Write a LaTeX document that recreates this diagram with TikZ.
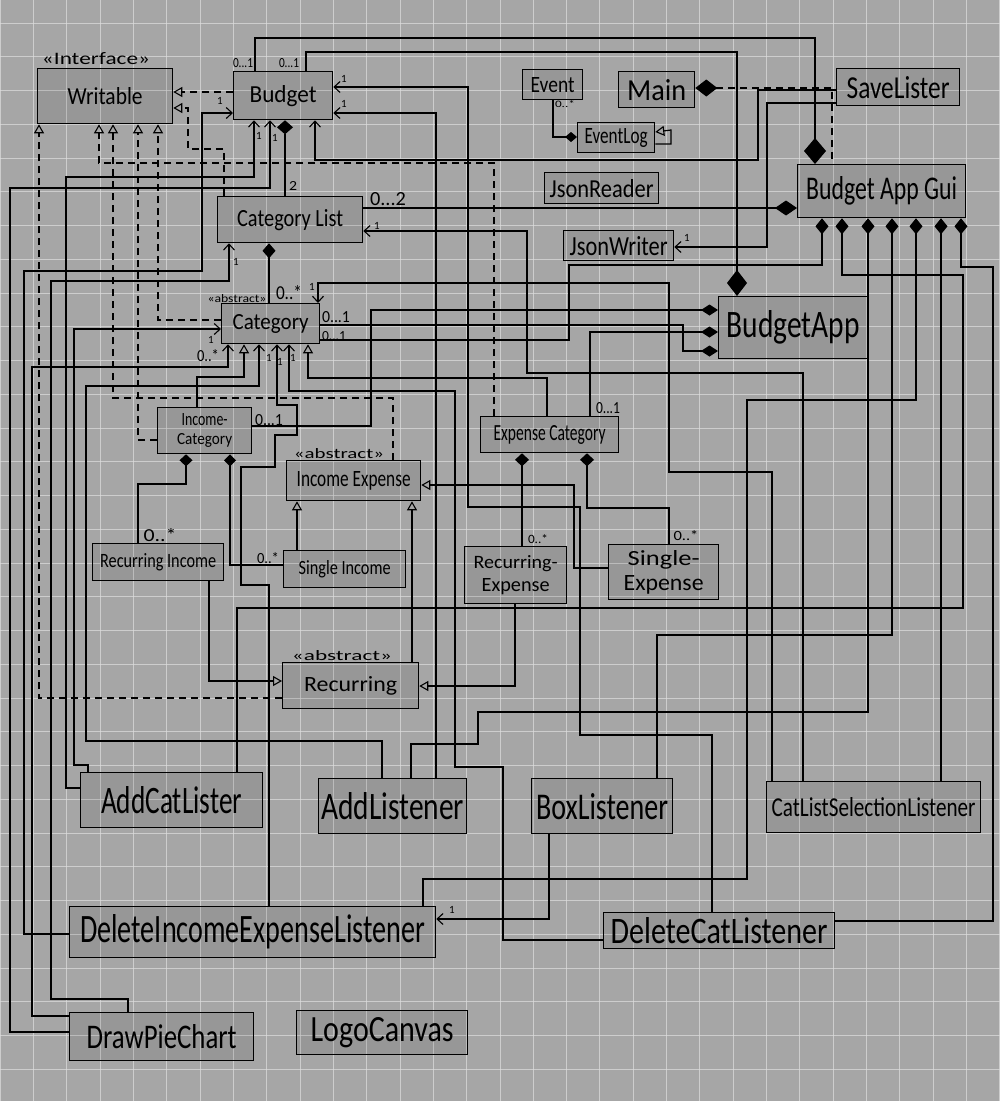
\documentclass[tikz,border=0pt]{standalone}
\usepackage{graphicx}
\usepackage{fontspec}
\setmainfont{Carlito}
\usetikzlibrary{arrows.meta}
\definecolor{bg}{RGB}{166,166,166}
\definecolor{gridc}{RGB}{222,222,222}
% text scaled to a given width and height (in pt)
\newcommand\hw[3]{\resizebox{#1pt}{#2pt}{#3}}
\newcommand\one{{\fontsize{11}{11}\selectfont 1}}

\begin{document}
\begin{tikzpicture}[x=1pt,y=-1pt,
  box/.style={draw=black, line width=1.3pt, fill=black, fill opacity=0.085,
              text opacity=1, inner sep=0pt, anchor=north west},
  lab/.style={inner sep=0pt},
  conn/.style={line width=1.2pt, draw=black},
  dsh/.style={conn, dash pattern=on 7pt off 5pt},
  nav/.style={conn, -{Straight Barb[length=6pt,width=11pt,line width=1.1pt]}},
  gen/.style={conn, -{Triangle[open,length=9pt,width=10pt,line width=1.1pt]}},
  real/.style={dsh, -{Triangle[open,length=9pt,width=10pt,line width=1.1pt]}},
  comp/.style={conn, {Diamond[length=16pt,width=13pt]}-},
]
\useasboundingbox (0,0) rectangle (1000,1101);
\fill[bg] (0,0) rectangle (1000,1101);

% squared paper
\foreach \i in {0,...,30}
  \draw[gridc, line width=0.9pt, opacity=0.7] (\i*33.33,0) -- (\i*33.33,1101);
\foreach \j in {0,...,32}
  \draw[gridc, line width=0.9pt, opacity=0.7] (0,23+\j*33.75) -- (1000,23+\j*33.75);

% ---------------- classes ----------------
\node[box, minimum width=135pt, minimum height=55pt] (writable) at (37,68) {\hw{75}{17}{Writable}};
\node[box, minimum width=99pt, minimum height=48pt] (budget) at (233,71) {\hw{67}{17}{Budget}};
\node[box, minimum width=60pt, minimum height=30pt] (event) at (522,69) {\hw{44}{15}{Event}};
\node[box, minimum width=77pt, minimum height=30pt] (eventlog) at (577,122) {\hw{63}{15}{EventLog}};
\node[box, minimum width=76pt, minimum height=36pt] (main) at (618,71) {\hw{59}{21}{Main}};
\node[box, minimum width=123pt, minimum height=37pt] (savelister) at (836,68) {\hw{103}{22}{SaveLister}};
\node[box, minimum width=168pt, minimum height=53pt] (gui) at (797,164) {\hw{151}{23}{Budget App Gui}};
\node[box, minimum width=114pt, minimum height=31pt] (jsonreader) at (544,172) {\hw{104}{18}{JsonReader}};
\node[box, minimum width=110pt, minimum height=30pt] (jsonwriter) at (563,230) {\hw{98}{19}{JsonWriter}};
\node[box, minimum width=145pt, minimum height=46pt] (catlist) at (217,196) {\hw{106}{17}{Category List}};
\node[box, minimum width=98pt, minimum height=40pt] (category) at (221,303) {\hw{76}{15}{Category}};
\node[box, minimum width=94pt, minimum height=46pt, align=center] (inccat) at (157,407)
  {\hw{46}{12}{Income-}\\[7pt]\hw{55}{11}{Category}};
\node[box, minimum width=134pt, minimum height=40pt] (incexp) at (286,460) {\hw{114}{15}{Income Expense}};
\node[box, minimum width=138pt, minimum height=36pt] (expcat) at (480,416) {\hw{112}{15}{Expense Category}};
\node[box, minimum width=131pt, minimum height=37pt] (recinc) at (92,543) {\hw{116}{14}{Recurring Income}};
\node[box, minimum width=122pt, minimum height=37pt] (sglinc) at (283,550) {\hw{92}{14}{Single Income}};
\node[box, minimum width=102pt, minimum height=57pt, align=center] (recexp) at (464,546)
  {\hw{84}{13}{Recurring-}\\[6pt]\hw{68}{13}{Expense}};
\node[box, minimum width=110pt, minimum height=55pt, align=center] (sglexp) at (608,544)
  {\hw{72}{15}{Single-}\\[5pt]\hw{80}{15}{Expense}};
\node[box, minimum width=136pt, minimum height=46pt] (recurring) at (282,662) {\hw{93}{15}{Recurring}};
\node[box, minimum width=182pt, minimum height=55pt] (addcat) at (80,772) {\hw{141}{27}{AddCatLister}};
\node[box, minimum width=148pt, minimum height=55pt] (addlis) at (318,778) {\hw{143}{27}{AddListener}};
\node[box, minimum width=141pt, minimum height=55pt] (boxlis) at (531,778) {\hw{132}{26}{BoxListener}};
\node[box, minimum width=214pt, minimum height=51pt] (catsel) at (766,781) {\hw{204}{19}{CatListSelectionListener}};
\node[box, minimum width=366pt, minimum height=51pt] (delinc) at (69,906) {\hw{345}{28}{DeleteIncomeExpenseListener}};
\node[box, minimum width=231pt, minimum height=36pt] (delcat) at (603,912) {\hw{217}{26}{DeleteCatListener}};
\node[box, minimum width=184pt, minimum height=48pt] (dpc) at (69,1012) {\hw{150}{24}{DrawPieChart}};
\node[box, minimum width=171pt, minimum height=44pt] (logo) at (296,1010) {\hw{143}{24}{LogoCanvas}};
\node[box, minimum width=149pt, minimum height=62pt] (budgetapp) at (718,296) {\hw{133}{27}{BudgetApp}};

% stereotypes
\node[lab] (st1) at (96,59) {\hw{108}{12}{«Interface»}};
\node[lab] (st2) at (237,299) {\hw{59}{8}{«abstract»}};
\node[lab] (st3) at (339,454) {\hw{90}{10}{«abstract»}};
\node[lab] (st4) at (342,656) {\hw{100}{10}{«abstract»}};

% ---------------- realizations of Writable ----------------
\draw[real] ([yshift=-21pt]budget.north west) -- ([yshift=-24pt]writable.north east);
\draw[real] ([xshift=7pt]catlist.north west) |- (188,149) |- ([yshift=-40pt]writable.north east);
\draw[real] ([yshift=-17pt]category.north west) -| ([xshift=121pt]writable.south west);
\draw[real] ([yshift=-33pt]inccat.north west) -| ([xshift=101pt]writable.south west);
\draw[real] ([xshift=107pt]incexp.north west) |- (113,398) -- ([xshift=76pt]writable.south west);
\draw[real] ([xshift=14pt]expcat.north west) |- (99,163) -- ([xshift=62pt]writable.south west);
\draw[real] ([yshift=-36pt]recurring.north west) -| ([xshift=2pt]writable.south west);

% ---------------- generalizations ----------------
\draw[gen] ([xshift=40pt]inccat.north west) |- (244,377) -- ([xshift=23pt]category.south west);
\draw[gen] ([xshift=67pt]expcat.north west) |- (308,378) -- ([xshift=87pt]category.south west);
\draw[gen] ([xshift=14pt]sglinc.north west) -- ([xshift=11pt]incexp.south west);
\draw[gen] ([yshift=-24pt]sglexp.north west) -| (574,485) -- ([yshift=-25pt]incexp.north east);
\draw[gen] ([xshift=130pt]recurring.north west) -- ([xshift=126pt]incexp.south west);
\draw[gen] ([xshift=117pt]recinc.south west) |- ([yshift=-19pt]recurring.north west);
\draw[gen] ([xshift=51pt]recexp.south west) |- ([yshift=-24pt]recurring.north east);
\draw[gen] ([yshift=-22pt]eventlog.north east) -- (671,144) -- (671,130) -- ([yshift=-10pt]eventlog.north east);

% ---------------- compositions ----------------
\draw[conn, {Diamond[length=26pt,width=22pt]}-] ([xshift=18pt]gui.north west) |- (255,38) -- ([xshift=22pt]budget.north west);
\draw[conn, {Diamond[length=26pt,width=20pt]}-] ([xshift=19pt]budgetapp.north west) |- (306,52) -- ([xshift=73pt]budget.north west);
\draw[conn, {Diamond[length=14pt,width=16pt]}-] ([xshift=52pt]budget.south west) -- ([xshift=68pt]catlist.north west);
\draw[conn, {Diamond[length=22pt,width=15pt]}-] ([yshift=-44pt]gui.north west) -- ([yshift=-12pt]catlist.north east);
\draw[conn, {Diamond[length=15pt,width=13pt]}-] ([xshift=52pt]catlist.south west) -- ([xshift=48pt]category.north west);
\draw[conn, {Diamond[length=17pt,width=11pt]}-] ([yshift=-55pt]budgetapp.north west) -| (683,325) -- ([yshift=-22pt]category.north east);
\draw[conn, {Diamond[length=17pt,width=11pt]}-] ([yshift=-14pt]budgetapp.north west) -| (371,426) -- ([yshift=-19pt]inccat.north east);
\draw[conn, {Diamond[length=17pt,width=11pt]}-] ([yshift=-36pt]budgetapp.north west) -| ([xshift=110pt]expcat.north west);
\draw[conn, {Diamond[length=12pt,width=13pt]}-] ([xshift=29pt]inccat.south west) |- (138,484) -- ([xshift=46pt]recinc.north west);
\draw[conn, {Diamond[length=12pt,width=12pt]}-] ([xshift=73pt]inccat.south west) |- ([yshift=-15pt]sglinc.north west);
\draw[conn, {Diamond[length=13pt,width=14pt]}-] ([xshift=42pt]expcat.south west) -- ([xshift=58pt]recexp.north west);
\draw[conn, {Diamond[length=13pt,width=14pt]}-] ([xshift=107pt]expcat.south west) |- (669,508) -- ([xshift=61pt]sglexp.north west);
\draw[conn, {Diamond[length=12pt,width=10pt]}-] ([yshift=-15pt]eventlog.north west) -| ([xshift=31pt]event.south west);
\draw[dsh, {Diamond[length=22pt,width=17pt]}-] ([yshift=-17pt]main.north east) -| ([xshift=35pt]gui.north west);

% BudgetAppGui owns the listeners
\draw[comp] ([xshift=25pt]gui.south west) |- (569,265) |- ([yshift=-37pt]category.north east);
\draw[comp] ([xshift=45pt]gui.south west) |- (963,275) |- (237,608) -- ([xshift=157pt]addcat.north west);
\draw[comp] ([xshift=71pt]gui.south west) |- (478,712) |- (411,744) -- ([xshift=93pt]addlis.north west);
\draw[comp] ([xshift=95pt]gui.south west) |- (657,635) -- ([xshift=126pt]boxlis.north west);
\draw[comp] ([xshift=119pt]gui.south west) |- (747,400) |- (423,879) -- ([xshift=354pt]delinc.north west);
\draw[comp] ([xshift=144pt]gui.south west) -- ([xshift=175pt]catsel.north west);
\draw[comp] ([xshift=164pt]gui.south west) |- (993,267) |- ([yshift=-9pt]delcat.north east);

% ---------------- navigable associations ----------------
\draw[nav] ([yshift=-28pt]delinc.north west) -| (24,271) -| (202,113) -- ([yshift=-42pt]budget.north west);
\draw[nav] ([yshift=-16pt]addcat.north west) -| (66,177) -| ([xshift=21pt]budget.south west);
\draw[nav] ([yshift=-20pt]dpc.north west) -| (10,188) -| ([xshift=37pt]budget.south west);
\draw[nav] ([yshift=-22pt]savelister.north west) -| (758,160) -| ([xshift=82pt]budget.south west);
\draw[nav] ([xshift=109pt]delcat.north west) |- (580,735) |- (468,507) |- ([yshift=-16pt]budget.north east);
\draw[nav] ([xshift=118pt]addlis.north west) |- ([yshift=-42pt]budget.north east);
\draw[nav] ([xshift=37pt]catsel.north west) |- (527,373) |- ([yshift=-35pt]catlist.north east);
\draw[nav] ([xshift=59pt]dpc.north west) |- (51,999) |- (229,281) -- ([xshift=12pt]catlist.south west);
\draw[nav] ([xshift=6pt]catsel.north west) |- (669,472) |- (318,283) -- ([xshift=97pt]category.north west);
\draw[nav] ([yshift=-4pt]dpc.north west) -| (32,367) -| ([xshift=7pt]category.south west);
\draw[nav] ([xshift=64pt]addlis.north west) |- (86,741) |- (259,386) -- ([xshift=38pt]category.south west);
\draw[nav] ([xshift=200pt]delinc.north west) |- (241,585) |- (275,467) |- (297,435) |- (277,405) -- ([xshift=56pt]category.south west);
\draw[nav] ([yshift=-28pt]delcat.north west) -| (503,767) -| (455,391) -| ([xshift=68pt]category.south west);
\draw[nav] ([xshift=8pt]addcat.north west) |- (74,765) |- ([yshift=-26pt]category.north west);
\draw[nav] ([xshift=18pt]boxlis.south west) |- ([yshift=-13pt]delinc.north east);
\draw[nav] ([yshift=-35pt]savelister.north west) -| (767,247) -- ([yshift=-17pt]jsonwriter.north east);

% ---------------- multiplicities ----------------
\node[lab] (m1) at (243,63) {\hw{20}{9}{0...1}};
\node[lab] (m2) at (289,63) {\hw{20}{9}{0...1}};
\node[lab] (m3) at (220,101) {\one};
\node[lab] (m4) at (344,79) {\one};
\node[lab] (m5) at (344,104) {\one};
\node[lab] (m6) at (259,136) {\one};
\node[lab] (m7) at (275,138) {\one};
\node[lab] (m8) at (293,186) {\hw{8}{9}{2}};
\node[lab] (m9) at (388,199) {\hw{36}{13}{0...2}};
\node[lab] (m10) at (377,226) {\one};
\node[lab] (m11) at (236,262) {\one};
\node[lab] (m12) at (289,293) {\hw{26}{14}{0..*}};
\node[lab] (m13) at (312,287) {\one};
\node[lab] (m14) at (336,317) {\hw{28}{11}{0...1}};
\node[lab] (m15) at (334,336) {\hw{24}{9}{0...1}};
\node[lab] (m16) at (211,340) {\one};
\node[lab] (m17) at (208,356) {\hw{22}{12}{0..*}};
\node[lab] (m18) at (269,358) {\one};
\node[lab] (m19) at (280,362) {\one};
\node[lab] (m20) at (293,358) {\one};
\node[lab] (m21) at (269,420) {\hw{28}{11}{0...1}};
\node[lab] (m22) at (160,535) {\hw{33}{13}{0..*}};
\node[lab] (m23) at (268,558) {\hw{22}{11}{0..*}};
\node[lab] (m24) at (608,408) {\hw{24}{11}{0...1}};
\node[lab] (m25) at (538,539) {\hw{20}{9}{0..*}};
\node[lab] (m26) at (686,536) {\hw{25}{10}{0..*}};
\node[lab] (m27) at (565,104) {\hw{20}{7}{0..*}};
\node[lab] (m28) at (687,238) {\one};
\node[lab] (m29) at (452,910) {\one};
\end{tikzpicture}
\end{document}
